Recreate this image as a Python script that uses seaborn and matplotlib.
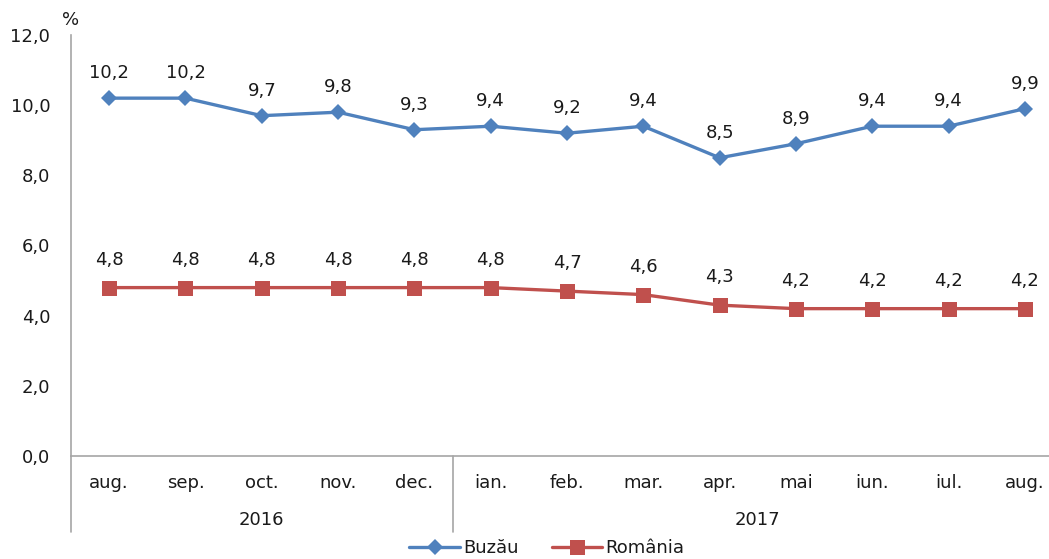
import numpy as np
import pandas as pd
import matplotlib
matplotlib.use("Agg")
import matplotlib.pyplot as plt
import matplotlib.transforms as mtransforms
from matplotlib.lines import Line2D
import seaborn as sns

months = ["aug.", "sep.", "oct.", "nov.", "dec.", "ian.", "feb.", "mar.",
          "apr.", "mai", "iun.", "iul.", "aug."]
years = ["2016", "2017"]
year_counts = [5, 8]
buzau = [10.2, 10.2, 9.7, 9.8, 9.3, 9.4, 9.2, 9.4, 8.5, 8.9, 9.4, 9.4, 9.9]
romania = [4.8, 4.8, 4.8, 4.8, 4.8, 4.8, 4.7, 4.6, 4.3, 4.2, 4.2, 4.2, 4.2]
series_names = ["Buzău", "România"]
y_ticks = [0, 2, 4, 6, 8, 10, 12]

sns.set_theme(style="white")
plt.rcParams['font.family'] = ['DejaVu Sans']

idx = np.arange(len(months))
df = pd.DataFrame({
    "x": np.concatenate([idx, idx]),
    "val": buzau + romania,
    "serie": [series_names[0]] * len(idx) + [series_names[1]] * len(idx),
})

colors = {"Buzău": "#4F81BD", "România": "#C0504D"}
markers = {"Buzău": "D", "România": "s"}

fig = plt.figure(figsize=(10.49, 5.59), dpi=100)
ax = fig.add_axes([71 / 1049, 103 / 559, 992 / 1049, 421 / 559])

sns.lineplot(data=df, x="x", y="val", hue="serie", style="serie",
             palette=colors, markers=markers, dashes=False, ax=ax,
             linewidth=2.4, markersize=10.8, markeredgewidth=0, legend=False)
for ln in ax.lines:
    if ln.get_marker() == "D":
        ln.set_markersize(8.6)

ax.set_xlim(-0.5, len(months) - 0.5)
ax.set_ylim(0, 12)
ax.set_yticks(y_ticks)
ax.set_yticklabels([f"{v:.1f}".replace(".", ",") for v in y_ticks])
ax.set_xticks(idx)
ax.set_xticklabels(months)
ax.set_xlabel("")
ax.set_ylabel("")
ax.tick_params(axis="y", length=0, pad=15, labelsize=13, colors="#1a1a1a")
ax.tick_params(axis="x", length=0, pad=13, labelsize=13, colors="#1a1a1a")

for s in ["top", "right"]:
    ax.spines[s].set_visible(False)
for s in ["left", "bottom"]:
    ax.spines[s].set_color("#A6A6A6")
    ax.spines[s].set_linewidth(1.2)

for i, v in enumerate(buzau):
    ax.annotate(f"{v:.1f}".replace(".", ","), (i, v), xytext=(0, 18),
                textcoords="offset points", ha="center", va="center",
                fontsize=13, color="#1a1a1a")
for i, v in enumerate(romania):
    ax.annotate(f"{v:.1f}".replace(".", ","), (i, v), xytext=(0, 20),
                textcoords="offset points", ha="center", va="center",
                fontsize=13, color="#1a1a1a")

trans = mtransforms.blended_transform_factory(ax.transData, ax.transAxes)
ext = -76 / 421
bounds = [-0.5]
for c in year_counts:
    bounds.append(bounds[-1] + c)
for b in bounds[:-1]:
    ax.add_line(Line2D([b, b], [0, ext], transform=trans, color="#A6A6A6",
                       linewidth=1.2, clip_on=False))
start = 0
for y, c in zip(years, year_counts):
    center = start + (c - 1) / 2
    ax.text(center, -64 / 421, y, transform=trans, ha="center", va="center",
            fontsize=13, color="#1a1a1a")
    start += c

fig.text(71 / 1049, 1 - 20 / 559, "%", ha="center", va="center",
         fontsize=13, color="#1a1a1a")

handles = [Line2D([], [], color=colors[n], marker=markers[n], linewidth=2.4,
                  markersize=(8.6 if markers[n] == "D" else 10.8),
                  markeredgewidth=0) for n in series_names]
fig.legend(handles, series_names, loc="center",
           bbox_to_anchor=(547 / 1049, 1 - 548 / 559), ncol=2, frameon=False,
           fontsize=13, handlelength=2.8, handletextpad=0.2,
           columnspacing=1.8, labelcolor="#1a1a1a", borderpad=0.1)

fig.savefig("out.png", dpi=100)
